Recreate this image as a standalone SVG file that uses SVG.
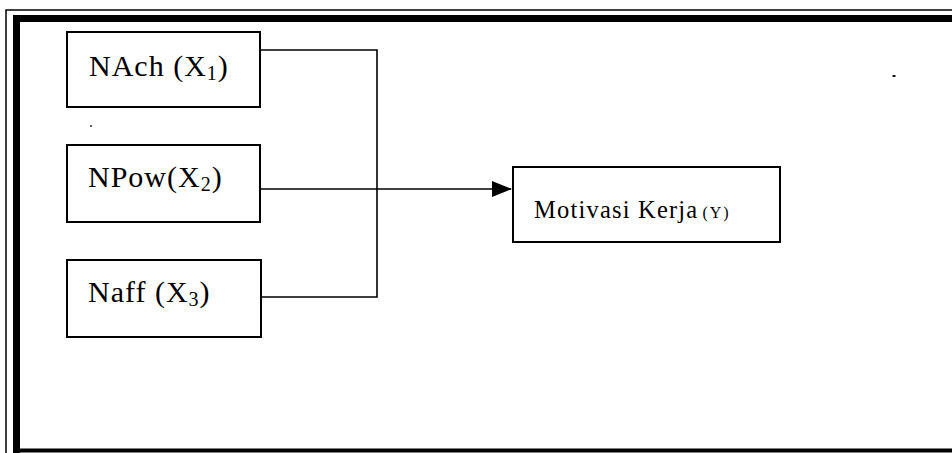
<svg xmlns="http://www.w3.org/2000/svg" width="952" height="453" viewBox="0 0 952 453">
<defs>
<style>
.box{fill:#fff;stroke:#000;stroke-width:2}
text{font-family:'Liberation Serif','Times New Roman','DejaVu Serif',serif;fill:#000}
.lbl{font-size:30px;letter-spacing:1px}
.sub{font-size:20px}
.conn{fill:none;stroke:#000;stroke-width:1.6}
</style>
<marker id="arr" markerWidth="20" markerHeight="16" refX="19" refY="8" orient="auto" markerUnits="userSpaceOnUse">
<path d="M0,0 L20,8 L0,16 Z" fill="#000"/>
</marker>
</defs>
<rect width="952" height="453" fill="#fff"/>
<g id="frame">
<path d="M6,453 V10 H960" fill="none" stroke="#000" stroke-width="1.5"/>
<path d="M16.5,453 V18.5 H960" fill="none" stroke="#000" stroke-width="7"/>
<path d="M16,450.5 H960" fill="none" stroke="#000" stroke-width="4"/>
</g>
<g id="connectors">
<polyline class="conn" points="261,50 377,50 377,297 262,297"/>
<line class="conn" x1="261" y1="189" x2="511" y2="189" marker-end="url(#arr)"/>
</g>
<g id="nach">
<rect class="box" x="67" y="32" width="193" height="75"/>
<text class="lbl" x="89" y="76">NAch (X<tspan class="sub" dy="4">1</tspan><tspan dy="-4">)</tspan></text>
</g>
<g id="npow">
<rect class="box" x="67" y="145" width="193" height="77"/>
<text class="lbl" x="88" y="187">NPow(X<tspan class="sub" dy="4">2</tspan><tspan dy="-4">)</tspan></text>
</g>
<g id="naff">
<rect class="box" x="67" y="260" width="194" height="77"/>
<text class="lbl" x="88" y="302">Naff (X<tspan class="sub" dy="4">3</tspan><tspan dy="-4">)</tspan></text>
</g>
<g id="motivasi">
<rect class="box" x="513" y="167" width="267" height="75"/>
<text x="534" y="218" font-size="24.5" letter-spacing="1.2">Motivasi Kerja<tspan font-size="16" letter-spacing="2" dx="4">(Y)</tspan></text>
</g>
<g id="specks">
<ellipse cx="91" cy="126" rx="1.2" ry="0.8" fill="#000"/>
<ellipse cx="894" cy="76" rx="1.8" ry="1" fill="#000"/>
</g>
</svg>
